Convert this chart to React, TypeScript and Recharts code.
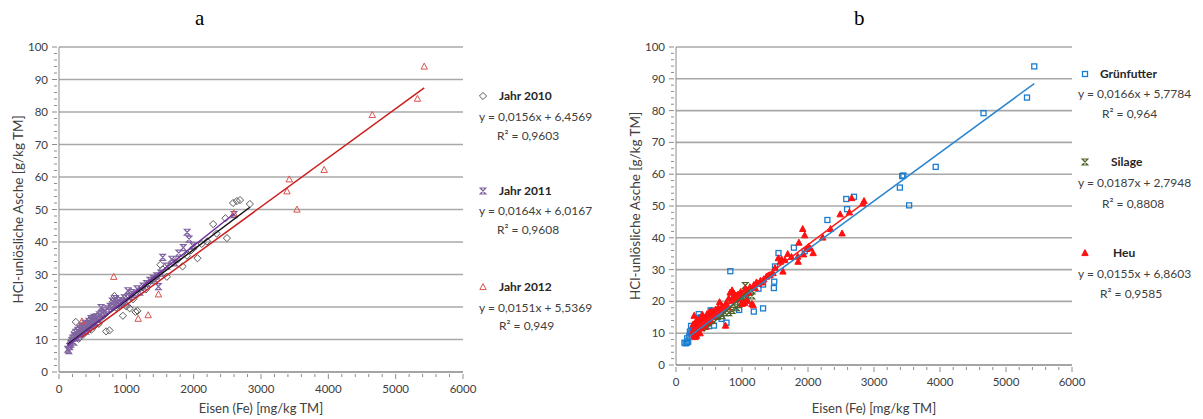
import React from 'react';
import { ScatterChart, Scatter, XAxis, YAxis, CartesianGrid } from 'recharts';

// axis ticks (major, labelled)
const xTickLabels = [0, 1000, 2000, 3000, 4000, 5000, 6000];
const yTickLabels = [0, 10, 20, 30, 40, 50, 60, 70, 80, 90, 100];

// panel a: by year  [Fe mg/kg, HCl-insoluble ash g/kg]
const jahr2010 = [
  [150, 7.5], [170, 8.8], [190, 9.8], [210, 10.8], [230, 12.2], [250, 15.4], [260, 11], [275, 12.8], [290, 10.2],
  [300, 13.5], [315, 11.8], [330, 12.6], [345, 14.2], [360, 11.5], [375, 13.2], [390, 14.8], [405, 12.5], [420, 15.2],
  [435, 13.6], [450, 14.5], [465, 16.2], [480, 13], [500, 15.6], [515, 16.8], [530, 14.2], [550, 15.8], [570, 17.2],
  [590, 14.8], [610, 16.4], [640, 18.2], [670, 17.5], [700, 12.5], [750, 12.8], [780, 20.2], [800, 21.6], [824, 23.4],
  [845, 19.8], [870, 22.4], [895, 20.6], [920, 21.8], [949, 17.3], [975, 22.6], [1000, 20.2], [1025, 23.8], [1050, 19.6],
  [1075, 24.6], [1100, 22.4], [1136, 18.5], [1165, 18.8], [1200, 24.8], [1240, 26.2], [1290, 25.4], [1340, 27.6],
  [1400, 28.4], [1450, 29.4], [1506, 33], [1540, 31.6], [1602, 29.3], [1680, 33.8], [1760, 34.6], [1835, 32.5],
  [1900, 35.8], [1960, 37.4], [2000, 38.2], [2057, 35], [2120, 39.4], [2200, 40.2], [2290, 45.5], [2340, 42.6],
  [2472, 47.3], [2494, 41.2], [2585, 52], [2642, 52.6], [2688, 52.9], [2835, 51.7],
];
const jahr2011 = [
  [130, 7], [145, 6.6], [160, 7.8], [175, 8.6], [190, 9.6], [205, 10.4], [220, 9.2], [235, 11.2], [250, 12.2], [265, 10.6],
  [280, 12.8], [295, 11.4], [310, 13.4], [325, 12], [340, 14.2], [355, 12.8], [370, 13.8], [385, 15], [400, 12.6],
  [415, 14.6], [430, 13.4], [445, 15.6], [460, 14.2], [475, 16.4], [490, 14.8], [505, 15.8], [520, 16.8], [540, 15.2],
  [560, 17], [580, 16.2], [600, 17.6], [625, 19.8], [650, 18.2], [680, 18.8], [720, 19.4], [760, 20.2], [790, 21.8],
  [810, 20.6], [840, 22.6], [860, 21.2], [890, 22], [910, 20.8], [940, 21.4], [970, 22.8], [1000, 21.6], [1023, 25],
  [1050, 23.2], [1080, 24.4], [1120, 23.8], [1160, 25.6], [1200, 24.6], [1250, 26.4], [1300, 27.2], [1350, 28.2],
  [1400, 28.8], [1450, 29.6], [1477, 26.3], [1510, 30.4], [1540, 35.3], [1600, 32.6], [1676, 34.7], [1720, 33.6],
  [1778, 36.6], [1847, 38.3], [1903, 43], [1932, 40.9], [1990, 38.8], [2600, 48.4],
];
const jahr2012 = [
  [341, 15.6], [813, 29.3], [1176, 16.4], [1324, 17.5], [1477, 23.9], [2597, 48.8], [3386, 55.6], [3420, 59.3],
  [3534, 50], [3938, 62.2], [4653, 79.1], [5324, 84.1], [5424, 94],
];

// panel b: by forage type
const gruenfutter = [
  [128, 7], [146, 6.8], [165, 7], [185, 7.3], [170, 8.4], [200, 9], [210, 10.5], [230, 10], [228, 12.3], [250, 11],
  [275, 12], [300, 12.5], [325, 10], [330, 11.5], [344, 16], [362, 14.7], [375, 15], [425, 13.5], [450, 14.3],
  [500, 12.2], [525, 17.2], [549, 16.8], [575, 12.4], [590, 16.2], [690, 14.5], [765, 13.3], [823, 29.5], [957, 17.3],
  [1062, 22.6], [1062, 21], [1179, 16.8], [1250, 24], [1319, 25.3], [1319, 17.8], [1483, 24.2], [1488, 26.2],
  [1500, 31], [1553, 35.2], [1786, 36.9], [1950, 35.8], [2294, 45.6], [2580, 52.2], [2592, 49], [2697, 52.9],
  [3392, 55.8], [3427, 59.4], [3445, 59.6], [3532, 50.2], [3935, 62.3], [4659, 79.2], [5318, 84.1], [5428, 93.9],
];
const silage = [
  [425, 12.3], [475, 13.4], [550, 14], [625, 15.3], [700, 15.5], [740, 16.5], [800, 16.5], [850, 17.2], [915, 18],
  [950, 19], [1000, 19.8], [1025, 20.5], [1050, 25], [1075, 21], [1150, 21.7], [1150, 23.3],
];
const heu = [
  [250, 10.5], [260, 12.8], [270, 9.5], [275, 15.5], [280, 11.5], [290, 8.8], [295, 13.5], [300, 10.2], [305, 12],
  [310, 9.2], [320, 14], [325, 11], [330, 12.5], [340, 10.5], [345, 13.2], [350, 11.8], [360, 14.5], [365, 10],
  [370, 12.8], [380, 13.5], [390, 11.5], [400, 15.8], [410, 12.2], [420, 14], [430, 13], [440, 15], [450, 12],
  [460, 14.8], [470, 16], [480, 13.5], [490, 15.5], [500, 14.2], [510, 16.8], [520, 15], [530, 13.8], [540, 17],
  [560, 16], [580, 15.2], [600, 17.5], [620, 16.5], [640, 18], [660, 19.8], [680, 17.2], [700, 18.5], [720, 17.8],
  [750, 12.4], [760, 19.5], [780, 18.2], [800, 21], [820, 22.8], [840, 20.2], [850, 23.5], [870, 21.5], [880, 22.5],
  [900, 20.5], [920, 21.8], [940, 22.2], [960, 20.8], [980, 23], [1000, 19.2], [1020, 22.5], [1040, 19.5], [1050, 24],
  [1070, 23], [1080, 20.2], [1100, 22.8], [1120, 24.5], [1150, 19.2], [1170, 18.8], [1180, 25.2], [1200, 24.2],
  [1220, 26], [1250, 25.5], [1280, 26.5], [1300, 26], [1330, 27], [1370, 27.8], [1400, 28.2], [1425, 28.3],
  [1470, 28.9], [1500, 30.5], [1550, 33.6], [1580, 32.5], [1600, 33.3], [1620, 29.4], [1650, 33], [1693, 34.9],
  [1750, 34], [1845, 34.1], [1850, 32.5], [1862, 38.5], [1920, 42.8], [1932, 34.8], [1950, 40.8], [1980, 36.5],
  [2008, 37.2], [2037, 36.7], [2078, 35.2], [2224, 40.1], [2341, 42.8], [2487, 47.4], [2516, 41.4], [2627, 48],
  [2662, 52.5], [2830, 50.8], [2849, 51.6],
];

// linear trend lines, end points as drawn
const trend2010 = [[130, 8.5], [2835, 50.7]];
const trend2011 = [[130, 8.1], [2600, 48.7]];
const trend2012 = [[341, 10.7], [5424, 87.4]];
const trendGruen = [[128, 7.9], [5428, 88.5]];
const trendSilage = [[425, 10.7], [1150, 24.3]];
const trendHeu = [[250, 10.7], [2849, 51]];

const legendA = [
  { name: 'Jahr 2010', eq: 'y = 0,0156x + 6,4569', r2: 'R² = 0,9603' },
  { name: 'Jahr 2011', eq: 'y = 0,0164x + 6,0167', r2: 'R² = 0,9608' },
  { name: 'Jahr 2012', eq: 'y = 0,0151x + 5,5369', r2: 'R² = 0,949' },
];
const legendB = [
  { name: 'Grünfutter', eq: 'y = 0,0166x + 5,7784', r2: 'R² = 0,964' },
  { name: 'Silage', eq: 'y = 0,0187x + 2,7948', r2: 'R² = 0,8808' },
  { name: 'Heu', eq: 'y = 0,0155x + 6,8603', r2: 'R² = 0,9585' },
];

const pts = (a: number[][]) => a.map(([x, y]) => ({ x, y }));

// minor ticks every 200 / every 2 between the labelled ones
const xAllTicks: number[] = [];
for (let v = 0; v <= xTickLabels[xTickLabels.length - 1]; v += 200) xAllTicks.push(v);
const yAllTicks: number[] = [];
for (let v = 0; v <= yTickLabels[yTickLabels.length - 1]; v += 2) yAllTicks.push(v);

const FONT = 'Lato, "Open Sans", sans-serif';
const AXIS = '#8c8c8c';
const TXT = '#404040';

const XTick = ({ x, y, payload }: any) => {
  const major = xTickLabels.includes(payload.value);
  return (
    <g>
      <line x1={x} x2={x} y1={y} y2={y + (major ? 5 : 3)} stroke={AXIS} strokeWidth={1} />
      {major && (
        <text x={x} y={y + 19} textAnchor="middle" fontSize={11.5} fill={TXT} fontFamily={FONT}>
          {payload.value}
        </text>
      )}
    </g>
  );
};

const YTick = ({ x, y, payload }: any) => {
  const major = yTickLabels.includes(payload.value);
  return (
    <g>
      <line x1={x} x2={x - (major ? 5 : 3)} y1={y} y2={y} stroke={AXIS} strokeWidth={1} />
      {major && (
        <text x={x - 9} y={y + 4} textAnchor="end" fontSize={11.5} fill={TXT} fontFamily={FONT}>
          {payload.value}
        </text>
      )}
    </g>
  );
};

// marker shapes
const diamond = (c: string) => (p: any) => (
  <path d={`M${p.cx},${p.cy - 3.6}L${p.cx + 3.6},${p.cy}L${p.cx},${p.cy + 3.6}L${p.cx - 3.6},${p.cy}Z`} fill="none" stroke={c} strokeWidth={1} />
);
const hourglass = (c: string) => (p: any) => (
  <path d={`M${p.cx - 2.8},${p.cy - 3}L${p.cx + 2.8},${p.cy - 3}L${p.cx - 2.8},${p.cy + 3}L${p.cx + 2.8},${p.cy + 3}Z`} fill="none" stroke={c} strokeWidth={1.2} />
);
const triangle = (c: string, filled: boolean) => (p: any) => (
  <path d={`M${p.cx},${p.cy - 3.4}L${p.cx + 3.2},${p.cy + 2.6}L${p.cx - 3.2},${p.cy + 2.6}Z`} fill={filled ? c : 'none'} stroke={c} strokeWidth={1} />
);
const square = (c: string) => (p: any) => (
  <rect x={p.cx - 2.5} y={p.cy - 2.5} width={5} height={5} fill="none" stroke={c} strokeWidth={1.3} />
);
const noShape = () => <g />;

const C2010 = '#595959';
const C2011 = '#8064a2';
const C2012 = '#d9534f';
const CGRUEN = '#1a7dd0';
const CSILAGE = '#4f6228';
const CHEU = '#ff1010';

const Panel = ({ width, left, right, xHeight, yLabelOffset, children }: any) => (
  <ScatterChart width={width} height={419} margin={{ top: 47, right, bottom: 0, left: 0 }}>
    <CartesianGrid vertical={false} horizontalValues={yTickLabels} stroke="#a8a8a8" strokeWidth={1.6} />
    <XAxis
      type="number"
      dataKey="x"
      domain={[0, 6000]}
      ticks={xAllTicks}
      interval={0}
      tickSize={0}
      tickLine={false}
      axisLine={{ stroke: AXIS }}
      height={xHeight}
      tick={(p: any) => <XTick {...p} />}
      label={{ value: 'Eisen (Fe) [mg/kg TM]', position: 'insideBottom', offset: 6, style: { fill: TXT, fontSize: 13, fontFamily: FONT } }}
    />
    <YAxis
      type="number"
      dataKey="y"
      domain={[0, 100]}
      ticks={yAllTicks}
      interval={0}
      tickSize={0}
      tickLine={false}
      axisLine={{ stroke: AXIS }}
      width={left}
      tick={(p: any) => <YTick {...p} />}
      label={{ value: 'HCl-unlösliche Asche [g/kg TM]', angle: -90, position: 'insideLeft', offset: yLabelOffset, style: { textAnchor: 'middle', fill: TXT, fontSize: 13.5, fontFamily: FONT } }}
    />
    {children}
  </ScatterChart>
);

const Legend = ({ items, markers, rows, nameX, markerX, eqX, r2X }: any) => (
  <>
    {items.map((it: any, i: number) => (
      <React.Fragment key={it.name}>
        <svg style={{ position: 'absolute', left: markerX - 5, top: rows[i][0] - 5 }} width={10} height={10}>
          {markers[i]({ cx: 5, cy: 5 })}
        </svg>
        <div style={{ position: 'absolute', left: nameX[i], top: rows[i][0] - 8, fontSize: 12, fontWeight: 700, color: '#262626', lineHeight: '16px', whiteSpace: 'nowrap' }}>{it.name}</div>
        <div style={{ position: 'absolute', left: eqX, top: rows[i][1] - 8, fontSize: 12, color: TXT, lineHeight: '16px', whiteSpace: 'nowrap' }}>{it.eq}</div>
        <div style={{ position: 'absolute', left: r2X[i], top: rows[i][2] - 8, fontSize: 12, color: TXT, lineHeight: '16px', whiteSpace: 'nowrap' }}>{it.r2}</div>
      </React.Fragment>
    ))}
  </>
);

export default function App() {
  return (
    <div style={{ position: 'absolute', left: 0, top: 0, width: 1203, height: 419, background: '#fff', fontFamily: FONT, overflow: 'hidden' }}>
      <div style={{ position: 'absolute', left: 0, top: 0 }}>
        <Panel width={600} left={59} right={137} xHeight={47} yLabelOffset={18}>
          <Scatter data={pts(jahr2010)} shape={diamond(C2010)} isAnimationActive={false} />
          <Scatter data={pts(jahr2011)} shape={hourglass(C2011)} isAnimationActive={false} />
          <Scatter data={pts(jahr2012)} shape={triangle(C2012, false)} isAnimationActive={false} />
          <Scatter data={pts(trend2010)} shape={noShape} line={{ stroke: '#111', strokeWidth: 1.5 }} isAnimationActive={false} />
          <Scatter data={pts(trend2011)} shape={noShape} line={{ stroke: '#7030a0', strokeWidth: 1.5 }} isAnimationActive={false} />
          <Scatter data={pts(trend2012)} shape={noShape} line={{ stroke: '#cc1f1f', strokeWidth: 1.5 }} isAnimationActive={false} />
        </Panel>
      </div>
      <div style={{ position: 'absolute', left: 600, top: 0 }}>
        <Panel width={603} left={76} right={131} xHeight={54} yLabelOffset={35}>
          <Scatter data={pts(gruenfutter)} shape={square(CGRUEN)} isAnimationActive={false} />
          <Scatter data={pts(silage)} shape={hourglass(CSILAGE)} isAnimationActive={false} />
          <Scatter data={pts(heu)} shape={triangle(CHEU, true)} isAnimationActive={false} />
          <Scatter data={pts(trendGruen)} shape={noShape} line={{ stroke: '#2b85d0', strokeWidth: 1.5 }} isAnimationActive={false} />
          <Scatter data={pts(trendSilage)} shape={noShape} line={{ stroke: CSILAGE, strokeWidth: 1.5 }} isAnimationActive={false} />
          <Scatter data={pts(trendHeu)} shape={noShape} line={{ stroke: '#ff1a1a', strokeWidth: 1.5 }} isAnimationActive={false} />
        </Panel>
      </div>

      <div style={{ position: 'absolute', left: 195, top: 6, fontFamily: '"Liberation Serif", serif', fontSize: 21 }}>a</div>
      <div style={{ position: 'absolute', left: 854, top: 6, fontFamily: '"Liberation Serif", serif', fontSize: 21 }}>b</div>

      <Legend
        items={legendA}
        markers={[diamond(C2010), hourglass(C2011), triangle(C2012, false)]}
        rows={[[96, 117, 136], [191, 211, 230], [287, 308, 326]]}
        markerX={483}
        nameX={[499, 499, 499]}
        eqX={479}
        r2X={[497, 497, 499]}
      />
      <Legend
        items={legendB}
        markers={[square(CGRUEN), hourglass(CSILAGE), triangle(CHEU, true)]}
        rows={[[74, 94, 114], [162, 183, 204], [253, 274, 294]]}
        markerX={1085}
        nameX={[1100, 1111, 1113]}
        eqX={1078}
        r2X={[1102, 1102, 1100]}
      />
    </div>
  );
}
